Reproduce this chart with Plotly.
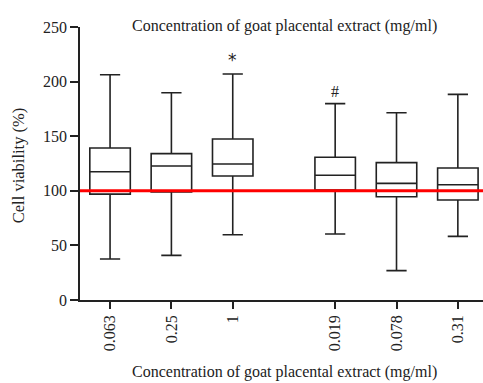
import plotly.graph_objects as go

categories = ["0.063", "0.25", "1", "0.019", "0.078", "0.31"]
x_positions = [0, 1, 2, 3.67, 4.67, 5.67]
lower_whisker = [37.5, 40.9, 59.8, 60.4, 26.9, 58.3]
q1_values = [97.0, 98.9, 113.5, 100.7, 94.6, 91.6]
median_values = [117.5, 122.7, 124.5, 114.2, 106.8, 105.6]
q3_values = [139.2, 134.0, 147.4, 130.7, 125.8, 120.9]
upper_whisker = [206.3, 189.8, 207.0, 179.8, 171.5, 188.3]
markers = ["", "", "*", "#", "", ""]
reference_value = 100
y_ticks = [0, 50, 100, 150, 200, 250]
axis_title = "Concentration of goat placental extract (mg/ml)"
y_title = "Cell viability (%)"

FONT = "Liberation Serif"

fig = go.Figure()
fig.add_trace(go.Box(
    x=x_positions,
    q1=q1_values, median=median_values, q3=q3_values,
    lowerfence=lower_whisker, upperfence=upper_whisker,
    width=0.66, whiskerwidth=0.5,
    fillcolor="white",
    line=dict(color="#222222", width=1.6),
    boxpoints=False, showlegend=False, hoverinfo="skip",
))

fig.add_shape(type="line", xref="paper", yref="y",
              x0=0, x1=1, y0=reference_value, y1=reference_value,
              line=dict(color="#ff0000", width=3))

for xp, m, up in zip(x_positions, markers, upper_whisker):
    if m:
        fig.add_annotation(x=xp, y=up, text=m, showarrow=False, yanchor="bottom",
                           yshift=2, font=dict(family="DejaVu Sans" if m == "*" else FONT,
                                               size=17 if m == "*" else 16, color="#222222"))

fig.add_annotation(xref="paper", yref="paper", x=0.508, y=1, yanchor="bottom", yshift=-10,
                   text=axis_title, showarrow=False,
                   font=dict(family=FONT, size=16, color="#222222"))
fig.add_annotation(xref="paper", yref="paper", x=0.508, y=0, yanchor="middle", yshift=-72,
                   text=axis_title, showarrow=False,
                   font=dict(family=FONT, size=16, color="#222222"))
fig.add_annotation(xref="paper", yref="paper", x=0, y=0.49, xanchor="center", xshift=-62,
                   text=y_title, textangle=-90, showarrow=False,
                   font=dict(family=FONT, size=16.5, color="#222222"))

fig.update_layout(
    width=483, height=383,
    margin=dict(l=80, r=0, t=27, b=83),
    plot_bgcolor="white", paper_bgcolor="white",
    font=dict(family=FONT, size=16, color="#222222"),
    xaxis=dict(range=[-0.49, 6.08], tickvals=x_positions, ticktext=categories,
               tickangle=-90, ticks="outside", ticklen=7, tickwidth=1.6, tickcolor="#222222",
               showline=True, linecolor="#222222", linewidth=1.6, showgrid=False, zeroline=False,
               tickfont=dict(family=FONT, size=16)),
    yaxis=dict(range=[0, 250], tickvals=y_ticks, ticks="outside", ticklen=8, tickwidth=1.6,
               tickcolor="#222222", showline=True, linecolor="#222222", linewidth=1.6,
               showgrid=False, zeroline=False, tickfont=dict(family=FONT, size=16)),
)

fig.write_html("out.html")
